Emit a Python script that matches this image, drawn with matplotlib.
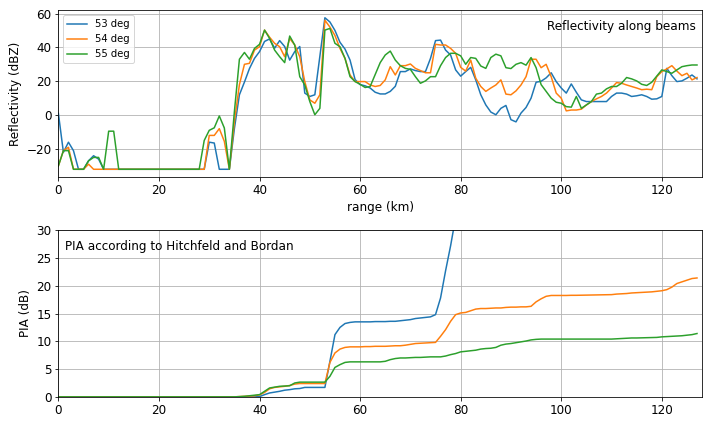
import numpy as np
import matplotlib
matplotlib.use("Agg")
import matplotlib.pyplot as plt

# range bins (km)
range_km = np.arange(128)

# reflectivity along beams (dBZ)
refl_53 = ([1, -22, -16, -21, -32, -32, -27, -24, -26, -32]
           + [-32] * 20
           + [-16, -16.5, -32, -32, -32]
           + [-8, 12, 19.5, 27.5, 33.5, 37.5, 43.5, 45, 39.5, 44,
              40.5, 32.5, 37.5, 40.5, 13, 11, 12, 35, 57.5, 55,
              50, 43, 39, 32.5, 21, 18, 17.3, 16, 13.5, 12.5,
              12.5, 14, 17, 25.7, 25.7, 27.3, 26.3, 25.7, 25.7, 33.5,
              44, 44.3, 38.4, 35.5, 26.7, 23, 25.7, 28.2, 20.8, 12,
              6, 1.8, 0.2, 4, 5.7, -2.7, -4, 1.2, 4.5, 10,
              19.4, 20, 22, 25, 19.8, 16, 13, 18.4, 13.5, 9,
              8, 8, 8, 8, 8, 11, 13, 13, 12.4, 11,
              11.4, 12, 11, 9.4, 9.6, 11, 27.6, 23.3, 19.8, 20.2,
              21.8, 23.7, 21.4])

refl_54 = ([-30, -21, -19, -32, -32, -32, -29, -32, -32, -32]
           + [-32] * 20
           + [-12, -12, -8, -15.5, -32]
           + [-4, 18, 30, 30.6, 38.4, 40.4, 50.2, 46, 42.4, 40.4,
              34.5, 45.3, 41.4, 34.5, 19.8, 9, 7, 12, 56, 52,
              47, 39.4, 33.5, 23.7, 19.8, 19.8, 19.8, 17.8, 16.9, 17.5,
              20.8, 28.6, 23.7, 29.2, 29.2, 30.2, 27.6, 26.3, 25, 25,
              41.8, 41.4, 41.4, 39.4, 36.5, 28.2, 26, 32.5, 21.8, 16.9,
              14, 16, 17.8, 20.8, 12.4, 12, 14.3, 17.8, 22.7, 33,
              33, 28, 30, 22.7, 13, 10, 2.5, 3, 3, 3.5,
              6, 8, 9.6, 11, 13, 16, 19.2, 18.8, 17.8, 16.9,
              16, 15, 15.3, 15, 22.7, 25.7, 27.3, 29.2, 26, 23.3,
              24.7, 20.8, 22.2])

refl_55 = ([-30, -21, -21, -32, -32, -32, -27, -25, -25, -32]
           + [-9.5, -9.5]
           + [-32] * 17
           + [-15, -9, -7.5, -0.5, -7.6, -32]
           + [2, 33, 37, 33, 39.4, 41.8, 50.2, 45.3, 38.4, 34.5,
              31, 46.7, 41.4, 22.7, 17.8, 8, 0.2, 4, 50.2, 51.2,
              42.4, 40.4, 33.5, 22.7, 19.8, 18.2, 16.3, 16.9, 24, 31,
              35.5, 37.8, 32.5, 29.2, 27.6, 27, 22.7, 18.8, 20.2, 22.7,
              22.7, 29.2, 34, 36.5, 36.5, 35, 30, 34, 33.5, 29,
              27.6, 34, 36, 35, 28, 27.5, 30, 31, 29.5, 34,
              28, 18, 14, 10, 7.6, 7, 5, 4.7, 11, 4,
              6, 8, 12.4, 13, 15.5, 16.9, 16.9, 18.8, 22.2, 21.4,
              20.2, 18.2, 17.5, 19.4, 23.1, 26.7, 25.7, 24.7, 26.7, 28.6,
              29.2, 29.6, 29.6])

# path integrated attenuation (dB), Hitschfeld-Bordan
pia_53 = ([0.0] * 40
          + [0.05, 0.4, 0.7, 0.85, 1.0, 1.2, 1.3, 1.45, 1.5, 1.7,
             1.7, 1.7, 1.7, 1.7, 6.4, 11.2, 12.5, 13.2, 13.4, 13.5,
             13.5, 13.5, 13.5, 13.55, 13.55, 13.55, 13.6, 13.6, 13.7, 13.8,
             13.9, 14.1, 14.2, 14.3, 14.4, 14.8, 17.8, 22.7, 27.2, 32.3,
             40.0])

pia_54 = ([0.0] * 36
          + [0.05, 0.1, 0.15, 0.2,
             0.35, 0.8, 1.45, 1.7, 1.8, 1.9, 2.05, 2.3, 2.4, 2.4,
             2.4, 2.4, 2.4, 2.4, 6.2, 7.9, 8.6, 8.9, 9.0, 9.0,
             9.0, 9.05, 9.05, 9.1, 9.1, 9.1, 9.15, 9.2, 9.2, 9.3,
             9.45, 9.6, 9.65, 9.7, 9.75, 9.8, 10.9, 12.1, 13.6, 14.8,
             15.1, 15.2, 15.5, 15.8, 15.9, 15.9, 15.95, 16.0, 16.0, 16.1,
             16.15, 16.15, 16.2, 16.2, 16.3, 17.1, 17.65, 18.1, 18.25, 18.25,
             18.25, 18.25, 18.28, 18.28, 18.3, 18.3, 18.32, 18.35, 18.37, 18.4,
             18.4, 18.5, 18.55, 18.6, 18.7, 18.75, 18.8, 18.85, 18.9, 19.0,
             19.1, 19.3, 19.75, 20.4, 20.7, 21.0, 21.3, 21.4])

pia_55 = ([0.0] * 36
          + [0.05, 0.1, 0.2, 0.3,
             0.4, 1.0, 1.6, 1.75, 1.9, 1.95, 2.0, 2.5, 2.65, 2.65,
             2.65, 2.65, 2.65, 2.65, 3.7, 5.3, 5.8, 6.2, 6.3, 6.3,
             6.3, 6.3, 6.3, 6.3, 6.3, 6.4, 6.7, 6.9, 7.0, 7.0,
             7.05, 7.1, 7.1, 7.15, 7.2, 7.2, 7.2, 7.35, 7.6, 7.8,
             8.1, 8.2, 8.3, 8.4, 8.6, 8.7, 8.75, 8.9, 9.3, 9.5,
             9.6, 9.75, 9.9, 10.05, 10.25, 10.35, 10.4, 10.4, 10.4, 10.4,
             10.4, 10.4, 10.4, 10.4, 10.4, 10.4, 10.4, 10.4, 10.4, 10.4,
             10.4, 10.45, 10.5, 10.55, 10.6, 10.6, 10.62, 10.65, 10.65, 10.7,
             10.8, 10.85, 10.9, 10.95, 11.0, 11.1, 11.2, 11.4])

labels = ["53 deg", "54 deg", "55 deg"]

plt.rcParams["font.size"] = 12

fig, (ax1, ax2) = plt.subplots(2, 1, figsize=(712 / 72, 424 / 72), dpi=72)
fig.subplots_adjust(left=0.082, right=0.986, top=0.976, bottom=0.064, hspace=0.32)

for vals, lab in zip([refl_53, refl_54, refl_55], labels):
    ax1.plot(range_km[:len(vals)], vals, label=lab)
ax1.grid()
ax1.text(0.99, 0.88, "Reflectivity along beams", ha="right",
         transform=ax1.transAxes, fontsize=12)
ax1.set_ylabel("Reflectivity (dBZ)")
ax1.set_xlabel("range (km)")
ax1.set_xlim(0, 128)
ax1.legend(loc="upper left", fontsize=10)

for vals, lab in zip([pia_53, pia_54, pia_55], labels):
    ax2.plot(range_km[:len(vals)], vals, label=lab)
ax2.grid()
ax2.text(0.01, 0.88, "PIA according to Hitchfeld and Bordan",
         transform=ax2.transAxes, fontsize=12)
ax2.set_ylabel("PIA (dB)")
ax2.set_xlim(0, 128)
ax2.set_ylim(0, 30)

fig.savefig("out.png", dpi=72)
